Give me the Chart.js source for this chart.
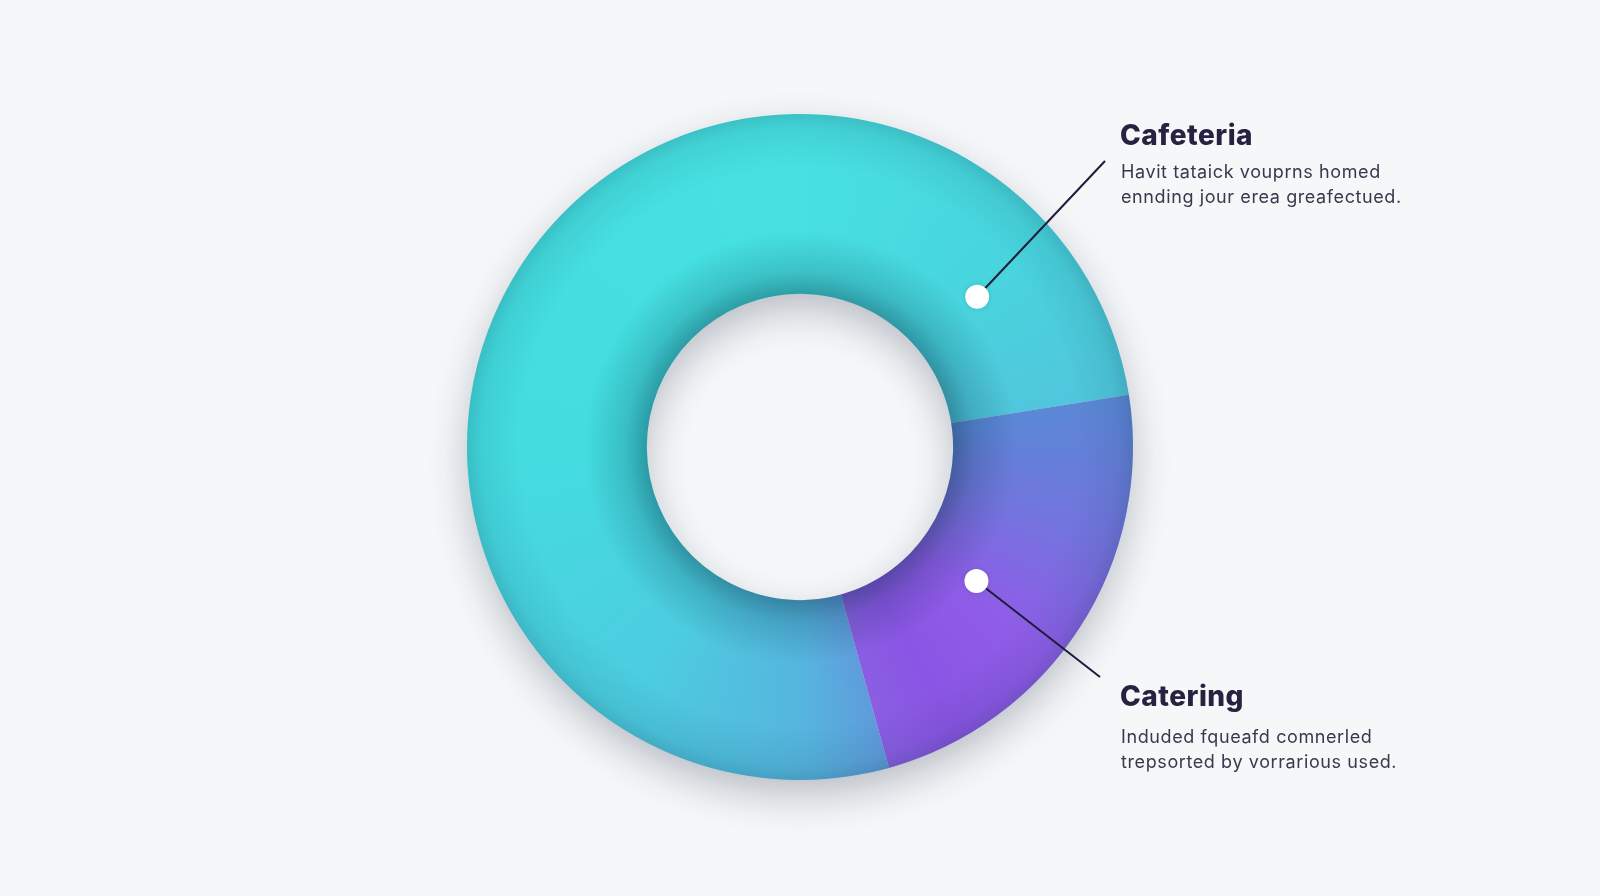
<!DOCTYPE html>
<html>
<head>
<meta charset="utf-8">
<script src="https://cdn.jsdelivr.net/npm/chart.js@4"></script>
<style>
  html, body { margin: 0; padding: 0; background: #f5f7f9; }
  #wrap { width: 1600px; height: 896px; position: relative; }
</style>
</head>
<body>
<div id="wrap"><canvas id="c" width="1600" height="896"></canvas></div>
<script>
// ---- data ----
const categories = ["Cafeteria", "Catering"];
const shares = [76.8, 23.2];
const descriptions = [
  ["Havit tataick vouprns homed", "ennding jour erea greafectued."],
  ["Induded fqueafd comnerled", "trepsorted by vorrarious used."]
];

// ---- styles ----
const stopSets = [
  [[0, "#5f9cdc"], [0.05, "#56b4de"], [0.18, "#4ccde0"], [0.38, "#43dde0"], [0.7, "#47e1e2"], [0.88, "#48d5de"], [1, "#50c6dc"]],
  [[0, "#5a88d6"], [0.3, "#7375de"], [0.6, "#8f5ce8"], [0.85, "#8a55e4"], [1, "#8a5ee2"]]
];
const ROTATION = 164.5;
const CUTOUT = 46;

function totalShare() { return shares.reduce((a, b) => a + b, 0); }
function segStart(i) {
  let acc = 0;
  for (let k = 0; k < i; k++) acc += shares[k];
  return (ROTATION - 90) * Math.PI / 180 + acc / totalShare() * Math.PI * 2;
}
function segSpan(i) { return shares[i] / totalShare() * Math.PI * 2; }

function segColor(ctx) {
  const chart = ctx.chart;
  const ca = chart.chartArea;
  const i = ctx.dataIndex;
  if (!ca) return stopSets[i][0][1];
  const cx = (ca.left + ca.right) / 2, cy = (ca.top + ca.bottom) / 2;
  const g = chart.ctx.createConicGradient(segStart(i), cx, cy);
  const frac = segSpan(i) / (Math.PI * 2);
  stopSets[i].forEach(([t, c]) => g.addColorStop(Math.min(t * frac, 1), c));
  g.addColorStop(Math.min(frac + 0.0001, 1), stopSets[i][stopSets[i].length - 1][1]);
  return g;
}

const ringFx = {
  id: 'ringFx',
  beforeDatasetsDraw(chart) {
    const arc = chart.getDatasetMeta(0).data[0];
    if (!arc) return;
    const { x, y, outerRadius, innerRadius } = arc.getProps(['x', 'y', 'outerRadius', 'innerRadius'], true);
    const c = chart.ctx;
    c.save();
    c.shadowColor = 'rgba(40,50,70,0.30)';
    c.shadowBlur = 40;
    c.shadowOffsetY = 16;
    c.fillStyle = '#dfe6ea';
    c.beginPath();
    c.arc(x, y, outerRadius - 2, 0, Math.PI * 2);
    c.arc(x, y, innerRadius + 2, 0, Math.PI * 2, true);
    c.fill('evenodd');
    c.restore();
  },
  afterDatasetsDraw(chart) {
    const arc = chart.getDatasetMeta(0).data[0];
    if (!arc) return;
    const { x, y, outerRadius, innerRadius } = arc.getProps(['x', 'y', 'outerRadius', 'innerRadius'], true);
    const c = chart.ctx;
    c.save();
    const g = c.createRadialGradient(x, y, innerRadius, x, y, outerRadius);
    g.addColorStop(0, 'rgba(0,40,60,0.36)');
    g.addColorStop(0.12, 'rgba(0,40,60,0.17)');
    g.addColorStop(0.35, 'rgba(0,40,60,0.0)');
    g.addColorStop(0.7, 'rgba(0,40,60,0.0)');
    g.addColorStop(0.92, 'rgba(0,40,60,0.08)');
    g.addColorStop(1, 'rgba(0,40,60,0.17)');
    c.fillStyle = g;
    c.beginPath();
    c.arc(x, y, outerRadius, 0, Math.PI * 2);
    c.arc(x, y, innerRadius, 0, Math.PI * 2, true);
    c.fill('evenodd');
    c.restore();
  }
};

const annot = {
  id: 'annot',
  afterDraw(chart, args, opts) {
    const meta = chart.getDatasetMeta(0);
    const c = chart.ctx;
    opts.items.forEach(it => {
      const arc = meta.data[it.index];
      if (!arc) return;
      const { x, y, outerRadius, innerRadius } = arc.getProps(['x', 'y', 'outerRadius', 'innerRadius'], true);
      const a = it.angle * Math.PI / 180;
      const r = innerRadius + (outerRadius - innerRadius) * it.rFrac;
      const dx = x + Math.cos(a) * r, dy = y + Math.sin(a) * r;
      c.save();
      c.strokeStyle = '#1f1c3a';
      c.lineWidth = 2;
      c.beginPath();
      c.moveTo(dx, dy);
      c.lineTo(it.lineEnd[0], it.lineEnd[1]);
      c.stroke();
      c.fillStyle = '#ffffff';
      c.shadowColor = 'rgba(0,0,0,0.15)';
      c.shadowBlur = 4;
      c.beginPath();
      c.arc(dx, dy, 12, 0, Math.PI * 2);
      c.fill();
      c.shadowColor = 'transparent';
      c.fillStyle = '#26223f';
      c.font = '800 28px Inter, "Noto Sans", sans-serif';
      c.letterSpacing = '0.5px';
      c.textBaseline = 'alphabetic';
      c.fillText(categories[it.index], it.textX, it.titleY);
      c.fillStyle = '#3a384e';
      c.font = '18px Inter, "Noto Sans", sans-serif';
      c.letterSpacing = '0.6px';
      descriptions[it.index].forEach((ln, k) => c.fillText(ln, it.textX + 1, it.subY + k * 25));
      c.restore();
    });
  }
};

new Chart(document.getElementById('c'), {
  type: 'doughnut',
  data: {
    labels: categories,
    datasets: [{
      data: shares,
      backgroundColor: segColor,
      borderWidth: 0,
      hoverOffset: 0
    }]
  },
  options: {
    responsive: false,
    animation: false,
    rotation: ROTATION,
    cutout: CUTOUT + '%',
    layout: { padding: { top: 114, bottom: 116, left: 0, right: 0 } },
    plugins: {
      legend: { display: false },
      tooltip: { enabled: false },
      annot: {
        items: [
          { index: 0, angle: -40.3, rFrac: 0.44, lineEnd: [1105, 161], textX: 1120, titleY: 145, subY: 178 },
          { index: 1, angle: 37.2, rFrac: 0.38, lineEnd: [1100, 677], textX: 1120, titleY: 706, subY: 743 }
        ]
      }
    }
  },
  plugins: [ringFx, annot]
});
</script>
</body>
</html>
